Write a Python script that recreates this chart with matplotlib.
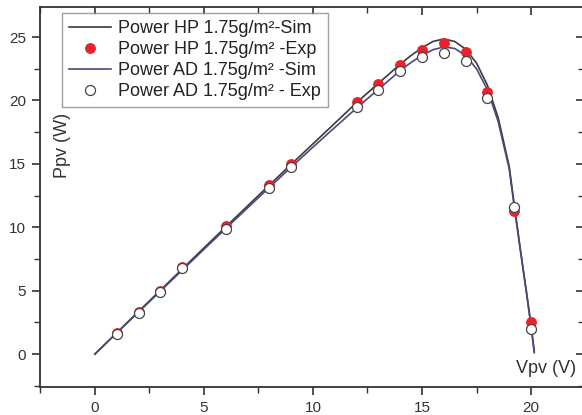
import matplotlib
matplotlib.use("Agg")
import matplotlib.pyplot as plt
from matplotlib.ticker import MultipleLocator

plt.rcParams['font.family'] = ['Liberation Sans', 'DejaVu Sans']

# Simulated P-V curves
v_sim = [0, 1, 2, 3, 4, 5, 6, 7, 8, 9, 10, 11, 12, 13, 14, 14.5, 15, 15.5,
         16, 16.5, 17, 17.5, 18, 18.5, 19, 19.2, 19.5, 19.8, 20, 20.15]
p_hp_sim = [0, 1.68, 3.36, 5.03, 6.70, 8.37, 10.03, 11.68, 13.33, 14.96,
            16.58, 18.20, 19.83, 21.35, 22.85, 23.55, 24.15, 24.65, 24.85,
            24.65, 24.05, 22.95, 21.20, 18.60, 14.80, 12.20, 8.40, 4.80,
            2.30, 0.2]
p_ad_sim = [0, 1.66, 3.31, 4.96, 6.61, 8.26, 9.90, 11.53, 13.14, 14.74,
            16.32, 17.87, 19.40, 20.88, 22.35, 23.00, 23.55, 24.00, 24.22,
            24.10, 23.55, 22.50, 20.85, 18.30, 14.60, 12.00, 8.30, 4.70,
            2.20, 0.1]

# Measured points
v_exp = [1, 2, 3, 4, 6, 8, 9, 12, 13, 14, 15, 16, 17, 18, 19.2, 20]
p_hp_exp = [1.65, 3.3, 5.0, 6.85, 10.1, 13.35, 15.0, 19.9, 21.3, 22.8,
            24.0, 24.5, 23.8, 20.7, 11.3, 2.5]
p_ad_exp = [1.6, 3.2, 4.9, 6.75, 9.85, 13.1, 14.75, 19.5, 20.85, 22.35,
            23.45, 23.75, 23.15, 20.2, 11.6, 2.0]

labels = ["Power HP 1.75g/m\u00b2-Sim", "Power HP 1.75g/m\u00b2 -Exp",
          "Power AD 1.75g/m\u00b2 -Sim", "Power AD 1.75g/m\u00b2 - Exp"]

fig = plt.figure(figsize=(5.82, 4.15), dpi=100)
ax = fig.add_axes([40 / 582, 28 / 415, 544 / 582, 380 / 415])

h1, = ax.plot(v_sim, p_hp_sim, color='#3a3a3a', lw=1.2, zorder=2)
h3, = ax.plot(v_sim, p_ad_sim, color='#4a4a78', lw=1.2, zorder=2)
h2, = ax.plot(v_exp, p_hp_exp, 'o', ms=6.8, mfc='#e8232b', mec='#e8232b',
              lw=0, zorder=3)
h4, = ax.plot(v_exp, p_ad_exp, 'o', ms=7.2, mfc='white', mec='#444444',
              mew=0.9, lw=0, zorder=4)

ax.set_xlim(-2.52, 22.43)
ax.set_ylim(-2.6, 27.37)
ax.xaxis.set_major_locator(MultipleLocator(5))
ax.xaxis.set_minor_locator(MultipleLocator(2.5))
ax.yaxis.set_major_locator(MultipleLocator(5))
ax.yaxis.set_minor_locator(MultipleLocator(2.5))

for s in ax.spines.values():
    s.set_color('#333333')
    s.set_linewidth(1.3)

ax.tick_params(axis='both', which='major', direction='out', length=6,
               width=1.2, color='#333333', labelsize=11,
               labelcolor='#333333', pad=4)
ax.tick_params(axis='both', which='minor', direction='out', length=4,
               width=1.0, color='#333333')
# Mirrored inward ticks on the top and right edges
ax.tick_params(axis='x', which='both', top=True, labeltop=False)
ax.tick_params(axis='y', which='both', right=True, labelright=False)
for t in ax.xaxis.get_major_ticks() + ax.xaxis.get_minor_ticks():
    t.tick2line.set_marker(3)
for t in ax.yaxis.get_major_ticks() + ax.yaxis.get_minor_ticks():
    t.tick2line.set_marker(0)

ax.text(0.042, 0.637, "Ppv (W)", transform=ax.transAxes, rotation=90,
        fontsize=13, color='#333333', ha='center', va='center')
ax.text(0.93, 0.05, "Vpv (V)", transform=ax.transAxes,
        fontsize=13, color='#333333', ha='center', va='center')

leg = ax.legend([h1, h2, h3, h4], labels, loc='upper left',
                bbox_to_anchor=(22 / 544, 1 - 6 / 380), fontsize=13,
                frameon=True, fancybox=False, borderpad=0.4,
                labelspacing=0.22, handlelength=2.3, handletextpad=0.4,
                borderaxespad=0)
leg.get_frame().set_edgecolor('#888888')
leg.get_frame().set_linewidth(1.0)
for t in leg.get_texts():
    t.set_color('#222222')

fig.savefig("out.png", dpi=100)
